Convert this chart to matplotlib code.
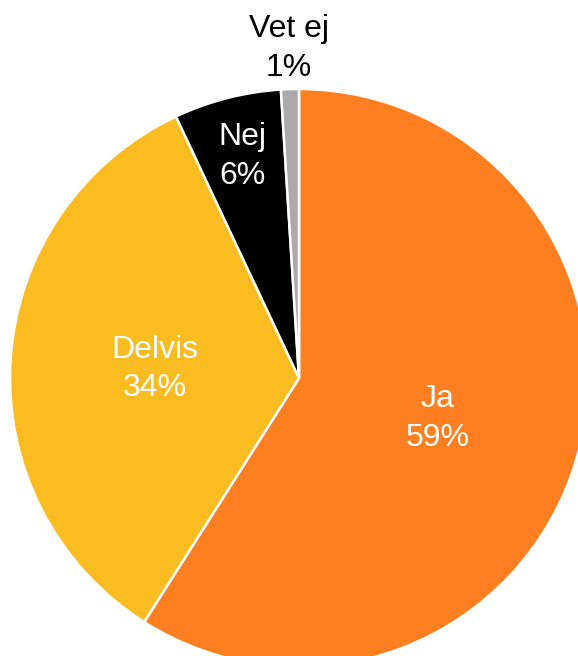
import numpy as np
import matplotlib.pyplot as plt

# survey answers
labels = ['Ja', 'Delvis', 'Nej', 'Vet ej']
shares = [59, 34, 6, 1]
colors = ['#FE7F1F', '#FBBC22', '#000000', '#AAAAAA']
text_colors = ['white', 'white', 'white', 'black']
label_dist = [0.5, 0.5, 0.79, 1.14]

plt.rcParams['font.family'] = ['Liberation Sans', 'DejaVu Sans']

fig = plt.figure(figsize=(5.78, 6.56), dpi=100)
ax = fig.add_axes([0, 0, 1, 1])
ax.axis('off')

cx, cy, r = 299, 278, 289
wedges, _ = ax.pie(shares, colors=colors, startangle=90, counterclock=False,
                   center=(cx, cy), radius=r,
                   wedgeprops=dict(edgecolor='white', linewidth=1.8))

for w, lab, val, tc, d in zip(wedges, labels, shares, text_colors, label_dist):
    mid = np.deg2rad((w.theta1 + w.theta2) / 2)
    x = cx + d * r * np.cos(mid)
    y = cy + d * r * np.sin(mid)
    ax.text(x, y, f'{lab}\n{val}%', color=tc, fontsize=23,
            ha='center', va='center', linespacing=1.38)

ax.set_xlim(0, 578)
ax.set_ylim(0, 656)
ax.set_aspect('equal')
fig.savefig('out.png', dpi=100)
